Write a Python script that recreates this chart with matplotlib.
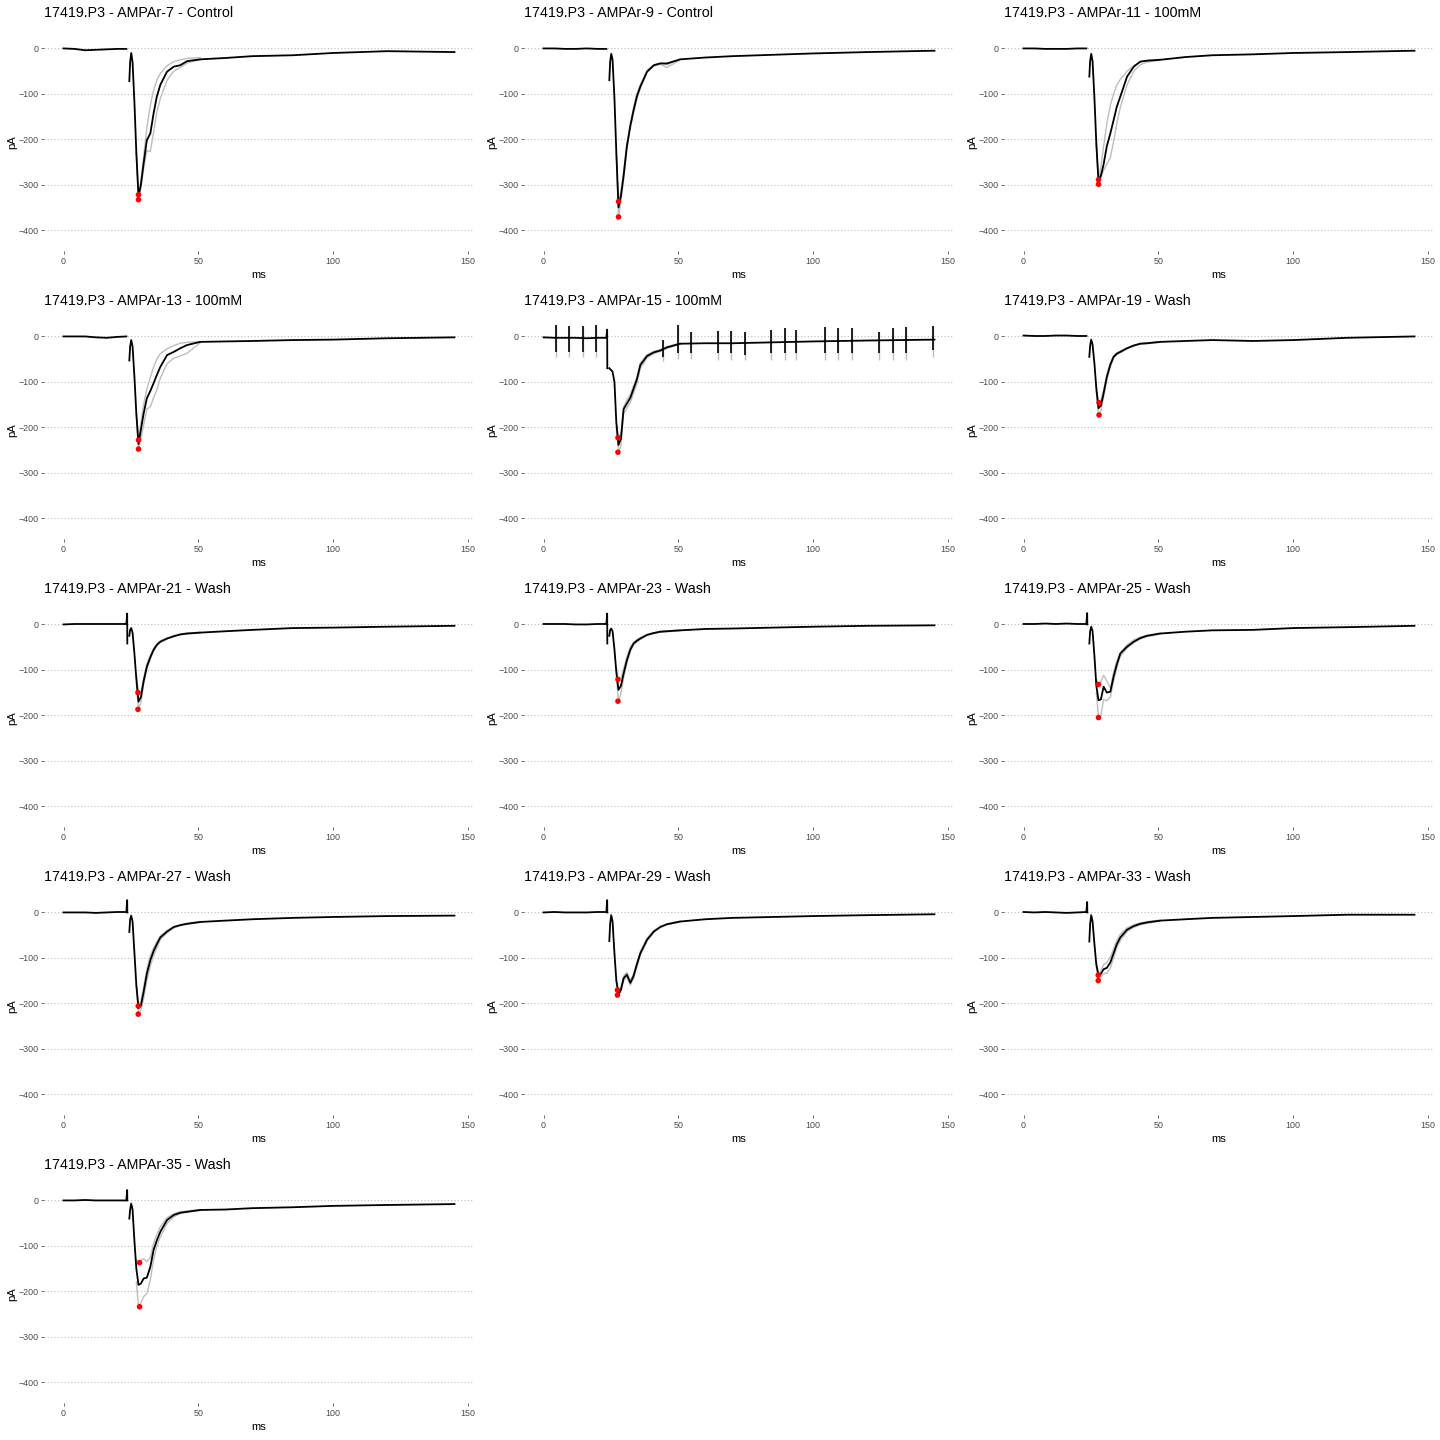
import numpy as np
import matplotlib.pyplot as plt

plt.rcParams['font.family'] = ['Liberation Sans', 'DejaVu Sans']

# ---- panel titles ----
titles = [
    "17419.P3 - AMPAr-7 - Control", "17419.P3 - AMPAr-9 - Control", "17419.P3 - AMPAr-11 - 100mM",
    "17419.P3 - AMPAr-13 - 100mM", "17419.P3 - AMPAr-15 - 100mM", "17419.P3 - AMPAr-19 - Wash",
    "17419.P3 - AMPAr-21 - Wash", "17419.P3 - AMPAr-23 - Wash", "17419.P3 - AMPAr-25 - Wash",
    "17419.P3 - AMPAr-27 - Wash", "17419.P3 - AMPAr-29 - Wash", "17419.P3 - AMPAr-33 - Wash",
    "17419.P3 - AMPAr-35 - Wash",
]

# ---- sample times (ms) ----
t_base = [0, 4, 8, 12, 16, 20, 23.3]
t_evt = [24.4, 24.7, 25.1, 25.6, 26.3, 27.0, 27.8, 28.7, 29.7, 30.9, 32.2, 33.4, 34.6,
         35.9, 38.4, 40.9, 43.3, 45.8, 50.7, 60, 70, 85, 100, 120, 145]
t_gray = [27.0, 27.8, 28.7, 29.7, 30.9, 32.2, 33.4, 34.6, 35.9, 38.4, 40.9, 43.3, 45.8, 50.7]

# ---- pre-stimulus baseline (pA) ----
baseline = [
    [0, -1, -4, -3, -2, -1, -1],
    [0, 0, -1, -1, 0, -1, -1],
    [0, 0, -1, -1, -1, 0, 0],
    [0, 0, 0, -2, -3, -1, 0],
    [-2, -3, -3, -3, -4, -3, -3],
    [2, 1, 1, 2, 2, 1, 1],
    [0, 1, 1, 1, 1, 1, 1],
    [1, 1, 1, 0, 0, 1, 1],
    [1, 1, 2, 1, 2, 1, 1],
    [0, 0, 0, -1, 0, 1, 1],
    [0, 1, 0, 0, 0, 1, 1],
    [1, 0, 1, 0, -1, 0, 1],
    [0, 0, 1, 0, 0, 0, 0],
]

# ---- stimulus artifact (top / bottom, pA), nan = none ----
art_hi = [np.nan, np.nan, np.nan, np.nan, 15, np.nan, 24, 24, 25, 27, 27, 23, 23]
art_lo = [np.nan, np.nan, np.nan, np.nan, -70, np.nan, -42, -42, 0, 0, 0, 0, 0]

# ---- mean trace (black) ----
black = [
    [-72, -30, -10, -30, -120, -230, -326, -300, -253, -202, -187, -143, -106, -80, -51, -40, -37, -28, -24, -21, -17, -15, -10, -6, -8],
    [-70, -30, -12, -25, -110, -230, -350, -325, -280, -216, -170, -136, -106, -84, -51, -37, -33, -33, -24, -20, -17, -14, -11, -8, -5],
    [-62, -28, -12, -28, -110, -210, -292, -280, -255, -215, -187, -158, -128, -106, -62, -40, -29, -27, -25, -19, -15, -13, -10, -8, -5],
    [-53, -22, -8, -22, -90, -170, -237, -205, -170, -136, -120, -103, -85, -67, -41, -34, -26, -19, -12, -11, -10, -8, -7, -4, -2],
    [-70, -72, -74, -78, -100, -190, -239, -225, -160, -148, -135, -115, -95, -63, -43, -35, -31, -24, -16, -15, -15, -13, -11, -9, -7],
    [-45, -20, -7, -18, -60, -115, -158, -152, -125, -89, -62, -45, -38, -34, -26, -20, -16, -15, -12, -10, -8, -10, -8, -3, 0],
    [-25, -12, -8, -18, -65, -120, -170, -160, -125, -93, -72, -56, -45, -38, -31, -26, -22, -20, -18, -15, -12, -8, -7, -5, -3],
    [-25, -12, -9, -15, -55, -105, -144, -135, -108, -79, -55, -42, -36, -31, -23, -19, -16, -15, -13, -10, -9, -7, -5, -3, -2],
    [-42, -15, -5, -15, -70, -135, -167, -165, -137, -150, -148, -115, -88, -64, -49, -38, -30, -25, -20, -16, -13, -12, -8, -6, -3],
    [-43, -15, -7, -20, -90, -160, -211, -205, -175, -135, -105, -85, -70, -55, -42, -32, -28, -25, -21, -18, -15, -12, -10, -8, -7],
    [-63, -25, -6, -20, -90, -150, -180, -170, -145, -137, -155, -140, -115, -90, -60, -42, -32, -26, -20, -15, -12, -10, -8, -6, -4],
    [-64, -25, -6, -20, -70, -115, -138, -135, -125, -122, -110, -90, -70, -55, -38, -30, -25, -22, -18, -15, -12, -10, -8, -5, -5],
    [-40, -20, -7, -20, -90, -150, -186, -183, -172, -170, -146, -109, -88, -69, -43, -32, -27, -25, -21, -20, -17, -15, -12, -10, -8],
]

# ---- individual sweeps (gray) ----
gray_a = [
    [-230, -322, -290, -240, -175, -125, -92, -70, -55, -38, -29, -25, -22, -20],
    [-230, -337, -315, -270, -210, -165, -130, -100, -80, -49, -36, -32, -36, -23],
    [-210, -289, -260, -215, -165, -125, -100, -80, -68, -50, -38, -30, -26, -24],
    [-170, -228, -190, -150, -115, -90, -67, -50, -38, -27, -20, -15, -13, -11],
    [-190, -223, -215, -155, -140, -128, -108, -90, -58, -40, -33, -29, -22, -15],
    [-110, -146, -140, -118, -84, -58, -42, -36, -32, -25, -19, -15, -14, -11],
    [-110, -150, -150, -118, -88, -68, -53, -43, -36, -30, -25, -21, -19, -17],
    [-95, -121, -118, -98, -72, -50, -39, -33, -29, -22, -18, -15, -14, -12],
    [-120, -132, -125, -112, -125, -140, -105, -80, -62, -45, -34, -28, -24, -19],
    [-160, -206, -195, -165, -125, -95, -78, -65, -52, -40, -31, -27, -24, -20],
    [-150, -171, -165, -140, -132, -150, -135, -110, -86, -57, -40, -31, -25, -19],
    [-110, -138, -128, -115, -110, -98, -80, -62, -48, -34, -27, -23, -20, -17],
    [-130, -137, -132, -128, -135, -125, -95, -75, -58, -38, -29, -25, -23, -20],
]
gray_b = [
    [-230, -333, -305, -265, -225, -227, -185, -140, -110, -70, -50, -42, -32, -25],
    [-230, -371, -335, -290, -222, -175, -142, -112, -88, -53, -39, -35, -42, -25],
    [-210, -299, -285, -268, -255, -240, -205, -165, -130, -80, -50, -36, -30, -26],
    [-170, -248, -225, -195, -160, -155, -135, -118, -92, -60, -48, -43, -37, -14],
    [-200, -255, -240, -170, -158, -145, -125, -105, -70, -47, -38, -33, -26, -17],
    [-120, -173, -165, -133, -95, -67, -48, -40, -36, -27, -21, -17, -16, -13],
    [-130, -187, -172, -132, -98, -76, -59, -47, -40, -32, -27, -23, -21, -19],
    [-115, -169, -152, -118, -86, -60, -45, -39, -33, -24, -20, -17, -16, -14],
    [-150, -205, -200, -165, -168, -160, -125, -95, -70, -52, -40, -32, -27, -21],
    [-160, -224, -215, -190, -150, -118, -95, -78, -60, -45, -34, -29, -26, -22],
    [-150, -182, -175, -150, -142, -160, -145, -120, -94, -63, -44, -33, -27, -21],
    [-120, -150, -142, -135, -134, -122, -100, -78, -62, -42, -33, -27, -24, -19],
    [-180, -234, -225, -212, -205, -175, -130, -100, -80, -50, -36, -29, -26, -22],
]

# ---- detected peaks (red) ----
peak_t = [27.8, 27.8, 27.8, 27.8, 27.6, 28.0, 27.6, 27.6, 27.8, 27.7, 27.4, 27.7, 28.2]
peak_a = [-322, -337, -289, -228, -223, -146, -150, -121, -132, -206, -171, -138, -137]
peak_b = [-333, -371, -299, -248, -255, -173, -187, -169, -205, -224, -182, -150, -234]

# ---- periodic noise spikes in AMPAr-15 ----
spike_t = [4.7, 9.6, 14.6, 19.5, 44.3, 49.8, 54.8, 64.7, 69.6, 74.6, 84.5, 89.4, 93.8,
           104.5, 109.4, 114.4, 124.3, 129.6, 134.5, 144.4]
spike_hi = [25, 23, 23, 25, -8, 25, 10, 12, 12, 10, 14, 18, 14, 21, 18, 18, 10, 18, 21, 23]
spike_lo = [-34, -34, -34, -34, -45, -37, -37, -37, -37, -40, -37, -37, -37, -37, -37, -37, -37, -37, -37, -30]
spike_glo = [-45, -45, -45, -45, -55, -50, -50, -52, -52, -52, -52, -52, -52, -52, -52, -52, -52, -52, -52, -45]

fig = plt.figure(figsize=(14.4, 14.4), dpi=100, facecolor="white")

for i, title in enumerate(titles):
    r, c = divmod(i, 3)
    left = 480 * c + 44
    bottom = 288 * r + 251
    ax = fig.add_axes([left / 1440, 1 - bottom / 1440, 430 / 1440, 218 / 1440])

    # black trace: baseline, artifact, gap, response
    t = list(t_base)
    v = list(baseline[i])
    if not np.isnan(art_hi[i]):
        t += [23.6, 23.65]
        v += [art_hi[i], art_lo[i]]
    t.append(24.0)
    v.append(np.nan)
    t += t_evt
    v += black[i]

    if i == 4:
        ax.vlines(spike_t, spike_glo, spike_hi, color="#BEBEBE", lw=1.0, zorder=2)
    ax.plot(t_gray, gray_a[i], color="#BEBEBE", lw=1.0, zorder=2)
    ax.plot(t_gray, gray_b[i], color="#BEBEBE", lw=1.0, zorder=2)
    ax.plot(t, v, color="black", lw=1.3, zorder=3)
    if i == 4:
        ax.vlines(spike_t, spike_lo, spike_hi, color="black", lw=1.2, zorder=3)
    ax.scatter([peak_t[i], peak_t[i]], [peak_a[i], peak_b[i]], s=16, color="red",
               edgecolors="none", zorder=4)

    ax.set_xlim(-7.25, 152.25)
    ax.set_ylim(-446, 34)
    ax.set_xticks([0, 50, 100, 150])
    ax.set_yticks([0, -100, -200, -300, -400])
    ax.tick_params(length=2.5, width=0.6, color="#555555", labelsize=6.4,
                   labelcolor="#4D4D4D", pad=1.5)
    ax.grid(axis="y", color="#BDBDBD", linestyle=(0, (1, 2)), linewidth=0.8)
    ax.grid(axis="x", visible=False)
    for s in ax.spines.values():
        s.set_visible(False)

    ax.set_title(title, loc="left", fontsize=10.3, pad=11.3)
    ax.set_xlabel("ms", fontsize=8.1)
    ax.xaxis.set_label_coords(0.5, -0.087)
    ax.set_ylabel("pA", fontsize=8.1)
    ax.yaxis.set_label_coords(-0.062, 0.5)

fig.savefig("out.png", dpi=100, facecolor="white")
